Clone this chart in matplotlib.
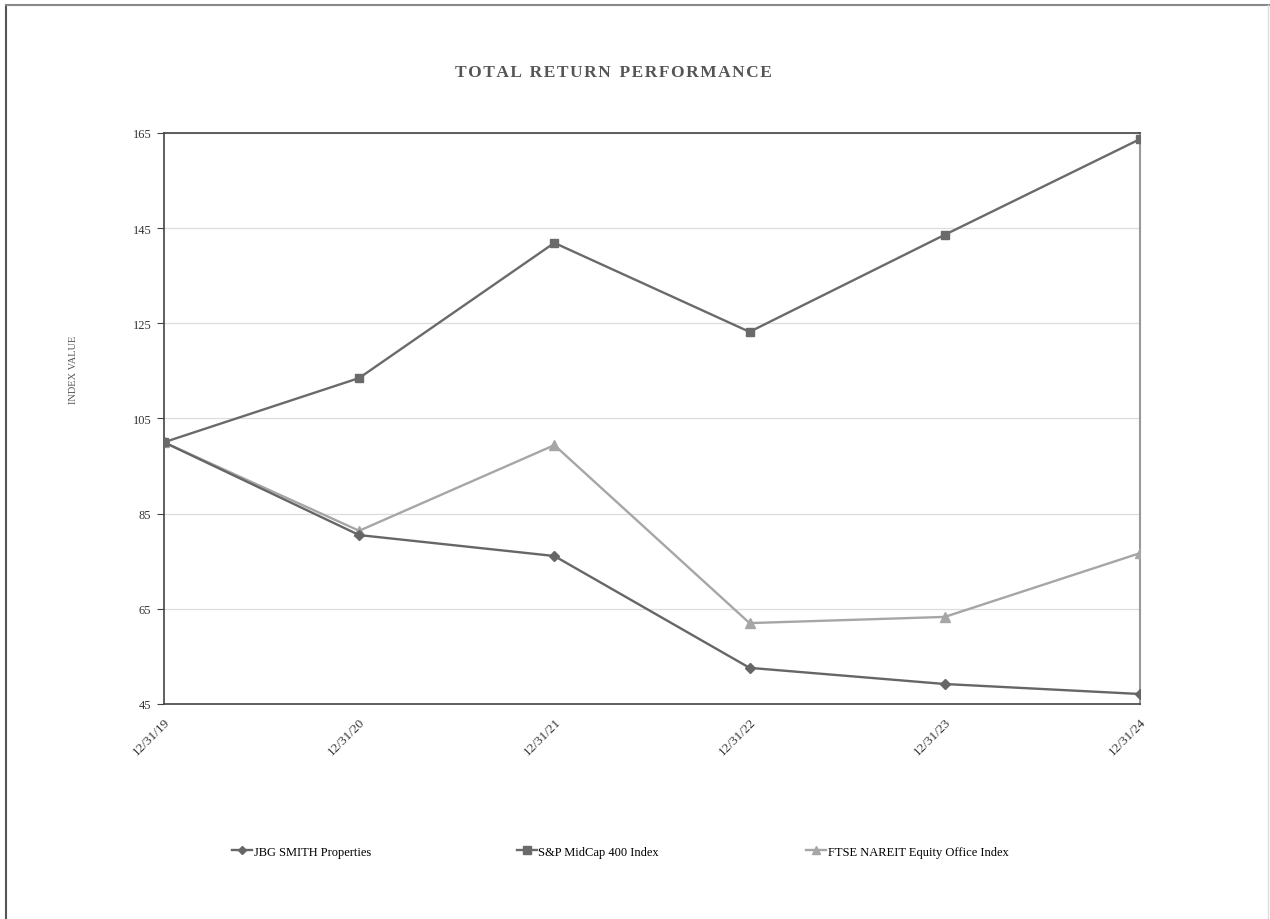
import matplotlib
matplotlib.use("Agg")
import matplotlib.pyplot as plt
from matplotlib.lines import Line2D

# data
dates = ["12/31/19", "12/31/20", "12/31/21", "12/31/22", "12/31/23", "12/31/24"]
jbg = [100, 80.5, 76.1, 52.6, 49.2, 47.1]
sp400 = [100, 113.5, 141.9, 123.2, 143.6, 163.7]
ftse = [100, 81.4, 99.4, 62.0, 63.3, 76.7]
yticks = [45, 65, 85, 105, 125, 145, 165]

serif = ["Liberation Serif", "DejaVu Serif"]
plt.rcParams["font.family"] = serif

fig = plt.figure(figsize=(12.7, 9.2), dpi=100)
ax = fig.add_axes([0.1291, 0.2337, 0.7685, 0.6207])

x = list(range(len(dates)))
ax.plot(x, jbg, color="#666666", lw=1.7, marker="D", ms=5, label="JBG SMITH Properties", zorder=4)
ax.plot(x, sp400, color="#6a6a6a", lw=1.7, marker="s", ms=6, label="S&P MidCap 400 Index", zorder=4)
ax.plot(x, ftse, color="#a6a6a6", lw=1.7, marker="^", ms=6.5, label="FTSE NAREIT Equity Office Index", zorder=3)

ax.set_xlim(0, 5)
ax.set_ylim(45, 165)
ax.set_yticks(yticks)
ax.set_xticks(x)
ax.set_xticklabels(dates, rotation=45, ha="right", rotation_mode="anchor", fontsize=9.5, color="#333333")
ax.tick_params(axis="y", labelsize=9, labelcolor="#333333", length=5, color="#444444", pad=4)
ax.tick_params(axis="x", length=0, pad=8)
ax.grid(axis="y", color="#dddddd", lw=0.9)
ax.set_axisbelow(True)

for side in ["left", "top", "bottom"]:
    ax.spines[side].set_color("#444444")
    ax.spines[side].set_linewidth(1.2)
ax.spines["right"].set_color("#999999")
ax.spines["right"].set_linewidth(1.5)

fig.text(0.0575, 0.598, "INDEX VALUE", rotation=90, ha="center", va="center", fontsize=7.5, color="#555555")
fig.text(0.483, 0.9207, "T O T A L   R E T U R N   P E R F O R M A N C E".replace(" ", "\u200a").replace("\u200a\u200a\u200a", "  "),
         ha="center", va="center", fontsize=12.5, fontweight="bold", color="#555555")

# legend entries spread across the bottom
leg_x = [0.178, 0.402, 0.630]
for line, lx in zip(ax.get_lines(), leg_x):
    h = Line2D([], [], color=line.get_color(), lw=1.7, marker=line.get_marker(), ms=line.get_markersize() - 0.5)
    fig.legend([h], [line.get_label()], loc="center left", bbox_to_anchor=(lx, 0.073),
               frameon=False, handlelength=1.6, handletextpad=0.1, fontsize=9, borderpad=0)

# page border
fig.add_artist(Line2D([0.0047, 0.0047], [0, 0.994], color="#555555", lw=1.5, transform=fig.transFigure))
fig.add_artist(Line2D([0.0047, 1.0], [0.994, 0.994], color="#888888", lw=1.5, transform=fig.transFigure))
fig.add_artist(Line2D([0.9985, 0.9985], [0, 0.994], color="#dddddd", lw=1.0, transform=fig.transFigure))

fig.savefig("out.png", dpi=100)
